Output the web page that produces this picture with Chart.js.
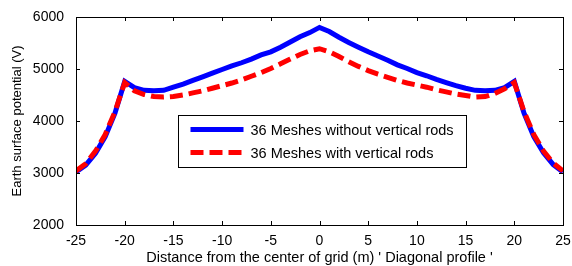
<!DOCTYPE html>
<html>
<head>
<meta charset="utf-8">
<script src="https://cdn.jsdelivr.net/npm/chart.js@4/dist/chart.umd.min.js"></script>
<style>
  html, body { margin: 0; padding: 0; background: #fff; }
  #wrap { width: 572px; height: 266px; position: relative; }
</style>
</head>
<body>
<div id="wrap"><canvas id="chart"></canvas></div>
<script>
// Diagonal profile - earth surface potential

const distance = [-25, -24, -23, -22, -21, -20, -19, -18, -17, -16, -15, -14, -13, -12, -11, -10, -9, -8, -7, -6, -5, -4, -3, -2, -1,
  0, 1, 2, 3, 4, 5, 6, 7, 8, 9, 10, 11, 12, 13, 14, 15, 16, 17, 18, 19, 20, 21, 22, 23, 24, 25];

const withoutRods = [3020, 3150, 3380, 3700, 4150, 4760, 4640, 4590, 4580, 4590, 4650, 4710, 4780, 4850, 4920, 4990, 5060, 5120, 5190, 5270, 5330, 5420, 5520, 5620, 5700,
  5800, 5720, 5610, 5510, 5420, 5330, 5250, 5170, 5080, 5010, 4930, 4870, 4800, 4740, 4680, 4630, 4590, 4580, 4590, 4640, 4760, 4150, 3700, 3390, 3160, 3020];

const withRods = [3040, 3180, 3420, 3740, 4180, 4740, 4580, 4510, 4470, 4460, 4470, 4500, 4540, 4580, 4630, 4680, 4730, 4790, 4860, 4930, 5010, 5100, 5190, 5280, 5350,
  5390, 5330, 5240, 5140, 5050, 4970, 4900, 4840, 4780, 4730, 4690, 4650, 4600, 4560, 4520, 4490, 4460, 4470, 4530, 4620, 4740, 4180, 3740, 3420, 3190, 3040];

const seriesLabels = ['36 Meshes without vertical rods', '36 Meshes with vertical rods'];
const xTitle = "Distance from the center of grid (m) ' Diagonal profile '";
const yTitle = 'Earth surface potential (V)';

const FONT = "'Liberation Sans', Arial, sans-serif";

// box round the plot, ticks pointing inward, legend inside the axes
const matlabAxes = {
  id: 'matlabAxes',
  afterDatasetsDraw(chart) {
    const { ctx, chartArea: a, scales } = chart;
    ctx.save();
    ctx.strokeStyle = '#000';
    ctx.lineWidth = 1;
    ctx.beginPath();
    for (const t of scales.x.ticks) {
      const px = Math.round(scales.x.getPixelForValue(t.value)) + 0.5;
      ctx.moveTo(px, a.bottom); ctx.lineTo(px, a.bottom - 4);
      ctx.moveTo(px, a.top); ctx.lineTo(px, a.top + 4);
    }
    for (const t of scales.y.ticks) {
      const py = Math.round(scales.y.getPixelForValue(t.value)) + 0.5;
      ctx.moveTo(a.left, py); ctx.lineTo(a.left + 4, py);
      ctx.moveTo(a.right, py); ctx.lineTo(a.right - 4, py);
    }
    ctx.stroke();
    ctx.strokeRect(Math.round(a.left) + 0.5, Math.round(a.top) + 0.5,
      Math.round(a.right - a.left), Math.round(a.bottom - a.top));

    // legend
    const lx = 178.5, ly = 115.5, lw = 288, lh = 52;
    ctx.fillStyle = '#fff';
    ctx.fillRect(lx, ly, lw, lh);
    ctx.strokeRect(lx, ly, lw, lh);
    ctx.font = '14.5px ' + FONT;
    ctx.textBaseline = 'middle';
    chart.data.datasets.forEach((ds, i) => {
      const y = ly + 14 + i * 23;
      ctx.strokeStyle = ds.borderColor;
      ctx.lineWidth = ds.borderWidth;
      ctx.setLineDash(ds.borderDash || []);
      ctx.beginPath();
      ctx.moveTo(lx + 12, y); ctx.lineTo(lx + 65, y);
      ctx.stroke();
      ctx.setLineDash([]);
      ctx.fillStyle = '#000';
      ctx.fillText(ds.label, lx + 72, y + 1);
    });
    ctx.restore();
  }
};

new Chart(document.getElementById('chart').getContext('2d'), {
  type: 'line',
  data: {
    datasets: [{
      label: seriesLabels[0],
      data: distance.map((d, i) => ({ x: d, y: withoutRods[i] })),
      borderColor: '#0000ff',
      borderWidth: 5,
      pointRadius: 0,
      tension: 0,
      fill: false,
      order: 1
    }, {
      label: seriesLabels[1],
      data: distance.map((d, i) => ({ x: d, y: withRods[i] })),
      borderColor: '#ff0000',
      borderWidth: 5,
      borderDash: [13, 6],
      pointRadius: 0,
      tension: 0,
      fill: false,
      order: 0
    }]
  },
  options: {
    responsive: true,
    maintainAspectRatio: false,
    animation: false,
    layout: { padding: { top: 17, right: 9, left: 0, bottom: 0 } },
    plugins: {
      legend: { display: false },
      tooltip: { enabled: false }
    },
    scales: {
      x: {
        type: 'linear',
        min: -25,
        max: 25,
        grid: { display: false },
        border: { display: false },
        ticks: { stepSize: 5, color: '#000', font: { family: FONT, size: 14 }, padding: 0, maxRotation: 0 },
        title: { display: true, text: xTitle, color: '#000', font: { family: FONT, size: 14.5 }, padding: { top: 0, bottom: -1 } },
        afterFit: s => { s.height = 41; }
      },
      y: {
        min: 2000,
        max: 6000,
        grid: { display: false },
        border: { display: false },
        ticks: { stepSize: 1000, color: '#000', font: { family: FONT, size: 14 }, padding: 4, callback: v => String(v) },
        title: { display: true, text: yTitle, color: '#000', font: { family: FONT, size: 13 }, padding: { top: 10, bottom: 0 } },
        afterFit: s => { s.width = 76; }
      }
    }
  },
  plugins: [matlabAxes]
});
</script>
</body>
</html>
